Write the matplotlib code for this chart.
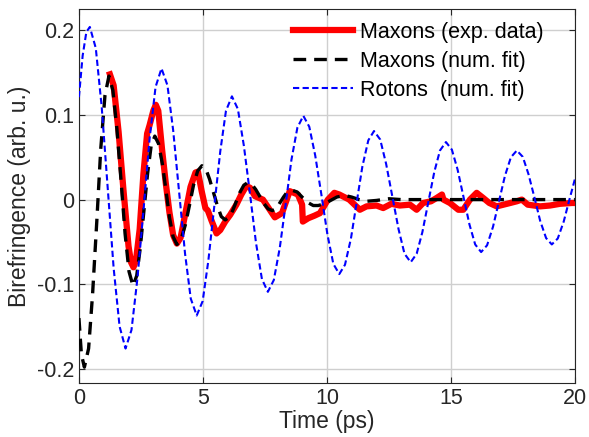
import matplotlib
matplotlib.use("Agg")
import matplotlib.pyplot as plt

plt.rcParams["font.family"] = ["Liberation Sans", "DejaVu Sans"]
plt.rcParams["axes.unicode_minus"] = False

# maxons, experimental data
exp_t = [1.25, 1.4, 1.6, 1.8, 2.0, 2.1, 2.2, 2.3, 2.45, 2.6, 2.75, 2.85, 3.0, 3.1,
         3.2, 3.35, 3.5, 3.65, 3.8, 3.95, 4.1, 4.3, 4.5, 4.7, 4.8, 4.95, 5.1, 5.2,
         5.35, 5.55, 5.7, 5.9, 6.1, 6.35, 6.55, 6.75, 6.9, 7.1, 7.42, 7.65, 7.9,
         8.19, 8.5, 8.83, 9.0, 9.03, 9.25, 9.5, 9.72, 10.04, 10.3, 10.5, 10.9,
         11.33, 11.6, 12.0, 12.27, 12.6, 12.94, 13.35, 13.62, 13.88, 14.2, 14.43,
         14.64, 14.7, 14.96, 15.3, 15.5, 15.77, 16.04, 16.3, 16.55, 16.85, 17.26,
         17.66, 17.86, 18.1, 18.6, 19.0, 19.4, 19.88, 20.0]
exp_v = [0.148, 0.135, 0.08, 0.01, -0.055, -0.074, -0.080, -0.072, -0.035, 0.03,
         0.078, 0.088, 0.105, 0.112, 0.105, 0.06, 0.02, -0.015, -0.042, -0.052,
         -0.045, -0.015, 0.015, 0.032, 0.033, 0.01, -0.01, -0.013, -0.025, -0.040,
         -0.036, -0.026, -0.018, -0.006, 0.006, 0.016, 0.014, 0.004, 0.0, -0.01,
         -0.021, -0.016, 0.010, 0.006, -0.006, -0.026, -0.022, -0.019, -0.016, 0.0,
         0.008, 0.006, 0.0, -0.012, -0.008, -0.007, -0.010, -0.005, -0.007, -0.006,
         -0.012, -0.004, -0.002, 0.002, 0.006, 0.0, -0.004, -0.012, -0.012, 0.0,
         0.008, 0.002, -0.004, -0.008, -0.005, -0.002, 0.0, -0.006, -0.008, -0.007,
         -0.005, -0.004, -0.004]

# maxons, numerical fit
max_t = [0.0, 0.1, 0.22, 0.39, 0.55, 0.72, 0.88, 1.05, 1.21, 1.37, 1.53, 1.70,
         1.86, 2.02, 2.18, 2.33, 2.47, 2.62, 2.77, 2.91, 3.06, 3.21, 3.36, 3.51,
         3.65, 3.80, 3.95, 4.12, 4.29, 4.46, 4.62, 4.79, 4.96, 5.12, 5.27, 5.43,
         5.59, 5.74, 5.9, 6.05, 6.2, 6.35, 6.5, 6.65, 6.8, 6.97, 7.13, 7.3, 7.47,
         7.63, 7.8, 7.95, 8.1, 8.25, 8.4, 8.6, 8.8, 9.0, 9.2, 9.45, 9.65, 9.9,
         10.15, 10.4, 10.7, 11.0, 11.3, 11.6, 12.0, 12.5, 13.0, 14.0, 20.0]
max_v = [-0.140, -0.183, -0.198, -0.176, -0.112, -0.026, 0.06, 0.123, 0.146,
         0.129, 0.084, 0.022, -0.040, -0.085, -0.102, -0.090, -0.058, -0.0135,
         0.031, 0.063, 0.075, 0.066, 0.043, 0.011, -0.021, -0.044, -0.053, -0.047,
         -0.030, -0.0065, 0.017, 0.034, 0.040, 0.036, 0.024, 0.008, -0.008, -0.020,
         -0.024, -0.021, -0.013, -0.002, 0.009, 0.017, 0.020, 0.018, 0.012, 0.0035,
         -0.005, -0.011, -0.013, -0.011, -0.004, 0.003, 0.009, 0.011, 0.009, 0.003,
         -0.003, -0.007, -0.007, -0.005, -0.001, 0.003, 0.005, 0.003, 0.0, -0.002,
         -0.001, 0.001, 0.0, 0.0, 0.0]

# rotons, numerical fit
rot_t = [0.0, 0.15, 0.3, 0.44, 0.68, 0.92, 1.16, 1.40, 1.64, 1.88, 2.12, 2.36,
         2.61, 2.85, 3.09, 3.33, 3.57, 3.80, 4.04, 4.28, 4.51, 4.75, 4.99, 5.22,
         5.46, 5.70, 5.93, 6.17, 6.41, 6.65, 6.90, 7.14, 7.38, 7.62, 7.86, 8.10,
         8.34, 8.57, 8.81, 9.05, 9.29, 9.53, 9.78, 10.02, 10.26, 10.5, 10.73,
         10.97, 11.2, 11.43, 11.67, 11.9, 12.15, 12.39, 12.64, 12.89, 13.13,
         13.38, 13.62, 13.85, 14.09, 14.33, 14.56, 14.8, 15.04, 15.27, 15.51,
         15.75, 15.98, 16.22, 16.46, 16.70, 16.94, 17.18, 17.42, 17.66, 17.90,
         18.13, 18.37, 18.60, 18.84, 19.07, 19.31, 19.55, 19.78, 20.0]
rot_v = [0.121, 0.17, 0.198, 0.204, 0.179, 0.109, 0.014, -0.081, -0.150, -0.176,
         -0.154, -0.093, -0.0105, 0.072, 0.133, 0.155, 0.135, 0.082, 0.009, -0.064,
         -0.117, -0.137, -0.120, -0.072, -0.0075, 0.057, 0.105, 0.122, 0.107,
         0.064, 0.0065, -0.051, -0.094, -0.109, -0.095, -0.057, -0.005, 0.047,
         0.085, 0.099, 0.086, 0.052, 0.0055, -0.041, -0.076, -0.088, -0.077,
         -0.046, -0.0035, 0.039, 0.070, 0.081, 0.071, 0.042, 0.0035, -0.035,
         -0.064, -0.074, -0.064, -0.0385, -0.003, 0.0325, 0.058, 0.068, 0.059,
         0.0355, 0.003, -0.0295, -0.053, -0.062, -0.054, -0.032, -0.002, 0.028,
         0.050, 0.058, 0.0505, 0.030, 0.0025, -0.025, -0.0455, -0.053, -0.046,
         -0.026, 0.0, 0.024]

xticks = [0, 5, 10, 15, 20]
yticks = [-0.2, -0.1, 0, 0.1, 0.2]
ytick_labels = ["-0.2", "-0.1", "0", "0.1", "0.2"]

fig = plt.figure(figsize=(5.89, 4.37), dpi=100)
ax = fig.add_axes([0.134, 0.124, 0.842, 0.855])

ax.plot(exp_t, exp_v, color="red", lw=4.5, solid_joinstyle="round",
        label="Maxons (exp. data)", zorder=3)
ax.plot(max_t, max_v, color="black", lw=2.4, dashes=(3.8, 2.4),
        label="Maxons (num. fit)", zorder=4)
ax.plot(rot_t, rot_v, color="blue", lw=1.5, dashes=(3, 1.6),
        label="Rotons  (num. fit)", zorder=5)

ax.set_xlim(0, 20)
ax.set_ylim(-0.2165, 0.225)
ax.set_xticks(xticks)
ax.set_yticks(yticks)
ax.set_yticklabels(ytick_labels)
ax.grid(True, color="#cfcfcf", lw=1)
ax.set_axisbelow(True)
ax.tick_params(direction="in", top=True, right=True, length=4, labelsize=15.5,
               colors="#262626")
for s in ax.spines.values():
    s.set_color("#262626")

ax.set_xlabel("Time (ps)", fontsize=16.5, color="#262626", labelpad=1)
ax.set_ylabel("Birefringence (arb. u.)", fontsize=16.5, color="#262626", labelpad=4)

ax.legend(loc="upper left", bbox_to_anchor=(0.431, 0.966), frameon=False,
          fontsize=15.5, handlelength=2.8, handletextpad=0.33, labelspacing=0.37,
          borderpad=0, borderaxespad=0)

fig.savefig("out.png", dpi=100)
